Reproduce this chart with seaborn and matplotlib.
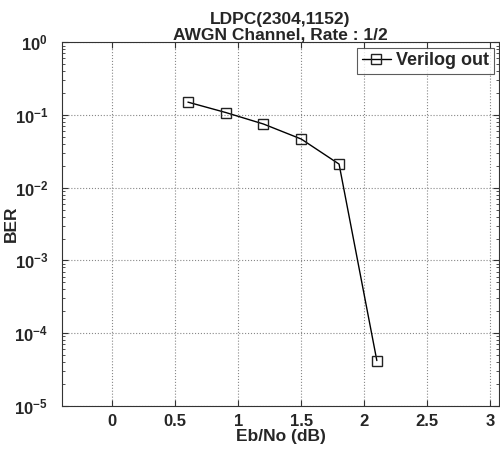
import matplotlib
matplotlib.use("Agg")
import matplotlib.pyplot as plt
import seaborn as sns
import numpy as np
import pandas as pd
from matplotlib.ticker import LogLocator, FuncFormatter, NullFormatter

ebno = [0.6, 0.9, 1.2, 1.5, 1.8, 2.1]
ber = [0.15, 0.108, 0.075, 0.0466, 0.0211, 4.2e-5]
series_name = "Verilog out"
xticks = [0, 0.5, 1, 1.5, 2, 2.5, 3]
xticklabels = ["0", "0.5", "1", "1.5", "2", "2.5", "3"]

sns.set_theme(style="white")
plt.rcParams['font.family'] = ['Liberation Sans', 'DejaVu Sans']
plt.rcParams['font.weight'] = 'bold'
plt.rcParams['mathtext.fontset'] = 'custom'
plt.rcParams['mathtext.bf'] = 'Liberation Sans:bold'
plt.rcParams['mathtext.rm'] = 'Liberation Sans:bold'

df = pd.DataFrame({"Eb/No": ebno, "BER": ber, "series": series_name})

fig = plt.figure(figsize=(5.0, 4.49), dpi=100)
ax = fig.add_axes([0.124, 0.096, 0.874, 0.81])
sns.lineplot(data=df, x="Eb/No", y="BER", hue="series", palette=["black"],
             marker="s", markersize=7, markerfacecolor="none",
             markeredgecolor="#222222", markeredgewidth=1.0, linewidth=1.0, ax=ax)
ax.set_yscale("log")
ax.set_xlim(-0.4, 3.07)
ax.set_ylim(1e-5, 1)
ax.set_xticks(xticks)
ax.set_xticklabels(xticklabels, fontsize=12, fontweight='bold')
ax.yaxis.set_major_locator(LogLocator(base=10, numticks=10))
ax.yaxis.set_minor_locator(LogLocator(base=10, subs=np.arange(2, 10), numticks=20))
ax.yaxis.set_minor_formatter(NullFormatter())
ax.yaxis.set_major_formatter(FuncFormatter(lambda v, p: r'$\mathbf{10^{%d}}$' % int(round(np.log10(v)))))
ax.tick_params(axis='both', which='major', direction='in', length=4, width=0.8, color='#333333', labelsize=12, pad=6)
ax.tick_params(axis='y', which='major', pad=10)
ax.tick_params(axis='y', which='minor', direction='in', length=2, width=0.6, color='#333333', left=True)
ax.tick_params(axis='both', which='both', top=True, right=True, bottom=True, left=True)
ax.grid(True, which='major', linestyle=':', color='#888888', linewidth=0.8)
for s in ax.spines.values():
    s.set_color('#333333')
    s.set_linewidth(0.8)
ax.set_xlabel("Eb/No (dB)", fontsize=12.5, fontweight='bold', labelpad=0)
ax.set_ylabel("BER", fontsize=12.5, fontweight='bold')
ax.yaxis.set_label_coords(-0.098, 0.5)
ax.set_title("LDPC(2304,1152)\nAWGN Channel, Rate : 1/2", fontsize=12.5, fontweight='bold', pad=2, linespacing=1.05)
leg = ax.legend(loc='upper right', fontsize=13, frameon=True, fancybox=False,
                edgecolor='#333333', borderpad=0.25, handlelength=1.6, handletextpad=0.3,
                borderaxespad=0.3)
leg.get_frame().set_linewidth(0.8)
for t in leg.get_texts():
    t.set_fontweight('bold')
fig.savefig("out.png", dpi=100, facecolor='white')
